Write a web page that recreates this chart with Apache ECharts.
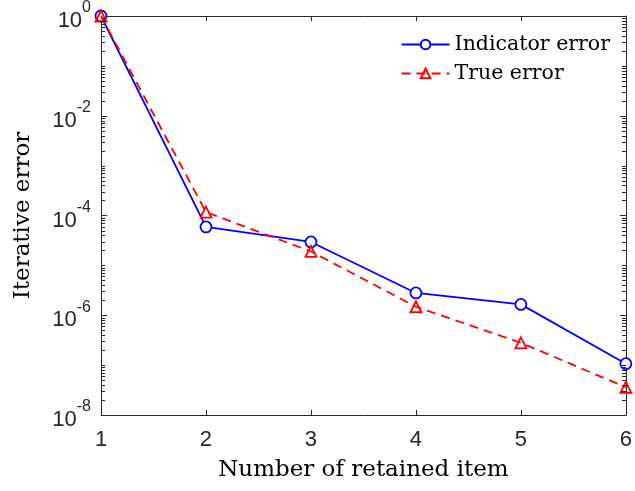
<!DOCTYPE html>
<html>
<head>
<meta charset="utf-8">
<script src="https://cdn.jsdelivr.net/npm/echarts@6/dist/echarts.min.js"></script>
<style>
  html, body { margin: 0; padding: 0; background: #fff; }
  #chart { width: 635px; height: 491px; }
</style>
</head>
<body>
<div id="chart"></div>
<script>
// Number of retained items (x positions)
const retainedItems = [1, 2, 3, 4, 5, 6];
// Error estimates per iteration
const indicatorError = [1.0, 5.9e-5, 2.95e-5, 2.8e-6, 1.65e-6, 1.07e-7];
const trueError = [1.0, 1.17e-4, 1.9e-5, 1.48e-6, 2.8e-7, 3.6e-8];
// Axis settings
const yExponents = [0, -2, -4, -6, -8];
const xTicks = [1, 2, 3, 4, 5, 6];

const axisColor = '#262626';
const serif = 'DejaVu Serif';
const sans = 'Liberation Sans';
const chart = echarts.init(document.getElementById('chart'), null, { renderer: 'canvas' });

const pairs = (xs, ys) => xs.map((x, i) => [x, ys[i]]);

const option = {
  animation: false,
  backgroundColor: '#ffffff',
  grid: { left: 101, top: 14, right: 6, bottom: 76, containLabel: false },
  legend: {
    top: 29,
    right: 20,
    orient: 'vertical',
    itemGap: 8,
    itemWidth: 48,
    itemHeight: 12,
    padding: 5,
    backgroundColor: '#ffffff',
    textStyle: { fontFamily: serif, fontSize: 20.5, color: '#000' },
    data: ['Indicator error', 'True error']
  },
  xAxis: [
    {
      type: 'value', min: 1, max: 6, interval: 1,
      name: 'Number of retained item',
      nameLocation: 'middle', nameGap: 44,
      nameTextStyle: { fontFamily: serif, fontSize: 23, color: '#000' },
      axisLine: { lineStyle: { color: axisColor, width: 1 } },
      axisTick: { inside: true, length: 5, lineStyle: { color: axisColor } },
      axisLabel: {
        fontFamily: sans, fontSize: 22, color: axisColor, margin: 14,
        formatter: v => xTicks.includes(v) ? String(v) : ''
      },
      splitLine: { show: false }
    },
    {
      type: 'value', min: 1, max: 6, interval: 1, position: 'top',
      axisLine: { lineStyle: { color: axisColor, width: 1 } },
      axisTick: { show: true, inside: true, length: 5, lineStyle: { color: axisColor } },
      axisLabel: { show: false },
      splitLine: { show: false }
    }
  ],
  yAxis: [
    {
      type: 'log', logBase: 10, min: 1e-8, max: 1, interval: 2,
      name: 'Iterative error',
      nameLocation: 'middle', nameGap: 66,
      nameTextStyle: { fontFamily: serif, fontSize: 23, color: '#000' },
      axisLine: { lineStyle: { color: axisColor, width: 1 } },
      axisTick: { inside: true, length: 6, lineStyle: { color: axisColor } },
      axisLabel: {
        margin: 10,
        formatter: v => {
          const e = Math.round(Math.log10(v));
          return yExponents.includes(e) ? '{b|10}{s|' + e + '}' : '';
        },
        rich: {
          b: { fontFamily: sans, fontSize: 22, color: axisColor, padding: [10, 0, 0, 0] },
          s: { fontFamily: sans, fontSize: 16, color: axisColor, verticalAlign: 'top', padding: [0, 0, 0, 0] }
        }
      },
      splitLine: { show: false }
    },
    {
      type: 'log', logBase: 10, min: 1e-8, max: 1, interval: 2, position: 'right',
      axisLine: { lineStyle: { color: axisColor, width: 1 } },
      axisTick: { show: true, inside: true, length: 6, lineStyle: { color: axisColor } },
      axisLabel: { show: false },
      splitLine: { show: false }
    }
  ],
  series: [
    {
      name: 'Indicator error', type: 'line',
      xAxisIndex: 0, yAxisIndex: 0,
      data: pairs(retainedItems, indicatorError),
      symbol: 'circle', symbolSize: 11, showAllSymbol: true,
      lineStyle: { color: '#0000ff', width: 1.8 },
      itemStyle: { color: '#ffffff', borderColor: '#0000ff', borderWidth: 1.8 },
      color: '#0000ff', z: 3
    },
    {
      name: 'True error', type: 'line',
      xAxisIndex: 0, yAxisIndex: 0,
      data: pairs(retainedItems, trueError),
      symbol: 'triangle', symbolSize: 11, showAllSymbol: true,
      lineStyle: { color: '#ff0000', width: 1.8, type: [9, 6] },
      itemStyle: { color: 'rgba(255,255,255,0)', borderColor: '#ff0000', borderWidth: 1.8 },
      color: '#ff0000', z: 4
    }
  ]
};
chart.setOption(option);

// Logarithmic minor ticks (m x 10^k) along both vertical edges of the plot box
function drawMinorTicks() {
  const elements = [];
  const left = Math.round(chart.convertToPixel({ xAxisIndex: 0 }, 1));
  const right = Math.round(chart.convertToPixel({ xAxisIndex: 0 }, 6));
  for (let k = -8; k < 0; k++) {
    for (let m = 1; m <= 9; m++) {
      if (m === 1 && k % 2 === 0) continue;
      const v = m * Math.pow(10, k);
      const y = Math.round(chart.convertToPixel({ yAxisIndex: 0 }, v)) + 0.5;
      elements.push({ type: 'line', z: 50, shape: { x1: left, y1: y, x2: left + 4, y2: y }, style: { stroke: axisColor, lineWidth: 1 }, silent: true });
      elements.push({ type: 'line', z: 50, shape: { x1: right - 4, y1: y, x2: right, y2: y }, style: { stroke: axisColor, lineWidth: 1 }, silent: true });
    }
  }
  chart.setOption({ graphic: { elements: elements } });
}
drawMinorTicks();
</script>
</body>
</html>
